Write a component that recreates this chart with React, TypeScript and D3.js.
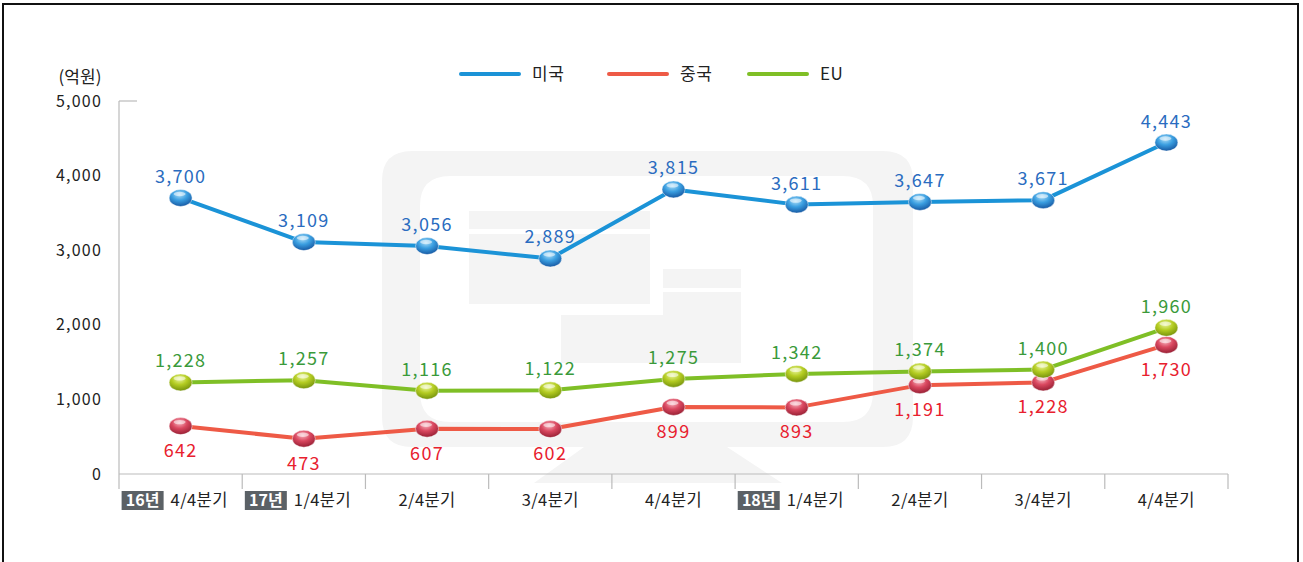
import React from "react";
import * as d3 from "d3";

const categories = ["16년 4/4분기", "17년 1/4분기", "2/4분기", "3/4분기", "4/4분기", "18년 1/4분기", "2/4분기 ", "3/4분기 ", "4/4분기 "];
const yearBadges = ["16년", "17년", "", "", "", "18년", "", "", ""];
const quarterLabels = ["4/4분기", "1/4분기", "2/4분기", "3/4분기", "4/4분기", "1/4분기", "2/4분기", "3/4분기", "4/4분기"];
const usa = [3700, 3109, 3056, 2889, 3815, 3611, 3647, 3671, 4443];
const china = [642, 473, 607, 602, 899, 893, 1191, 1228, 1730];
const eu = [1228, 1257, 1116, 1122, 1275, 1342, 1374, 1400, 1960];
const yTicks = [0, 1000, 2000, 3000, 4000, 5000];
const seriesNames = ["미국", "중국", "EU"];

const W = 1303, H = 562;
const left = 119, right = 1228, top = 101, bottom = 474;
const FONT = "'Noto Sans CJK KR', 'Noto Sans', sans-serif";

const series = [
  { name: seriesNames[0], values: usa, line: "#1b93d7", label: "#2a6cc0", g: ["#a9dcf7", "#3a9ee0", "#124f9a"], above: true },
  { name: seriesNames[2], values: eu, line: "#7fbf26", label: "#3a9a3a", g: ["#e9f59a", "#b4cc22", "#6d8a0a"], above: true },
  { name: seriesNames[1], values: china, line: "#ee5a46", label: "#e8202e", g: ["#f7b0bb", "#d9475f", "#8e1a2e"], above: false },
];

export default function App() {
  const x = d3.scaleBand<number>().domain(d3.range(categories.length)).range([left, right]);
  const y = d3.scaleLinear().domain([0, 5000]).range([bottom, top]);
  const fmt = d3.format(",");
  const cx = (i: number) => (x(i) as number) + x.bandwidth() / 2;
  const line = (vals: number[]) => d3.line<number>().x((_, i) => cx(i)).y((v) => y(v))(vals) as string;
  const wm = "#f4f4f4";

  const legendItems = [
    { name: seriesNames[0], color: "#1b93d7", x0: 461 },
    { name: seriesNames[1], color: "#ee5a46", x0: 609 },
    { name: seriesNames[2], color: "#7fbf26", x0: 749 },
  ];

  return (
    <svg width={W} height={H} style={{ position: "absolute", left: 0, top: 0, background: "#fff" }} fontFamily={FONT}>
      <defs>
        {series.map((s, k) => (
          <radialGradient key={k} id={`g${k}`} cx="45%" cy="30%" r="75%">
            <stop offset="0%" stopColor={s.g[0]} />
            <stop offset="45%" stopColor={s.g[1]} />
            <stop offset="100%" stopColor={s.g[2]} />
          </radialGradient>
        ))}
      </defs>
      <rect x={3} y={4} width={1295} height={600} fill="#fff" stroke="#111" strokeWidth={2} />

      {/* watermark */}
      <g fill={wm}>
        <path fillRule="evenodd" d={`M412,151 H883 Q913,151 913,181 V417 Q913,447 883,447 H412 Q382,447 382,417 V181 Q382,151 412,151 Z M450,176 H843 Q873,176 873,206 V392 Q873,422 843,422 H450 Q420,422 420,392 V206 Q420,176 450,176 Z`} />
        <path d="M584,447 H727 L782,483 H534 Z" />
        <rect x={469} y={211} width={181} height={18} />
        <rect x={469} y={234} width={181} height={70} />
        <rect x={663} y={269} width={78} height={19} />
        <rect x={663} y={292} width={78} height={24} />
        <rect x={561} y={315} width={180} height={48} />
      </g>

      {/* y axis */}
      <line x1={left} x2={left} y1={top} y2={bottom} stroke="#bbb" strokeWidth={1.2} />
      <line x1={left} x2={left + 18} y1={top} y2={top} stroke="#bbb" strokeWidth={1.2} />
      {yTicks.map((t) => (
        <text key={t} x={102} y={y(t)} dy="0.35em" textAnchor="end" fontSize={16} letterSpacing={1.2} fill="#222">{fmt(t)}</text>
      ))}
      <text x={80} y={77} dy="0.35em" textAnchor="middle" fontSize={17} fill="#222">(억원)</text>

      {/* x axis */}
      <line x1={left} x2={right} y1={bottom} y2={bottom} stroke="#bbb" strokeWidth={1.2} />
      {d3.range(categories.length + 1).map((i) => {
        const xx = i < categories.length ? (x(i) as number) : right;
        return <line key={i} x1={xx} x2={xx} y1={bottom} y2={bottom + 15} stroke="#bbb" strokeWidth={1.2} />;
      })}
      {categories.map((c, i) => {
        const badge = yearBadges[i];
        const c0 = cx(i);
        if (badge) {
          return (
            <g key={c}>
              <rect x={c0 - 59} y={491} width={42} height={19} fill="#5b6166" />
              <text x={c0 - 38} y={500.5} dy="0.36em" textAnchor="middle" fontSize={16} fontWeight={700} fill="#fff">{badge}</text>
              <text x={c0 - 10} y={500.5} dy="0.36em" textAnchor="start" fontSize={16.5} letterSpacing={0.4} fill="#222">{quarterLabels[i]}</text>
            </g>
          );
        }
        return <text key={c} x={c0} y={500.5} dy="0.36em" textAnchor="middle" fontSize={16.5} letterSpacing={0.4} fill="#222">{quarterLabels[i]}</text>;
      })}

      {/* legend */}
      {legendItems.map((l) => (
        <g key={l.name}>
          <line x1={l.x0} x2={l.x0 + 58} y1={74} y2={74} stroke={l.color} strokeWidth={4} strokeLinecap="round" />
          <text x={l.x0 + 71} y={74} dy="0.35em" fontSize={17} letterSpacing={0.5} fill="#222">{l.name}</text>
        </g>
      ))}

      {/* lines */}
      {series.map((s, k) => (
        <path key={k} d={line(s.values)} fill="none" stroke={s.line} strokeWidth={4} strokeLinejoin="round" />
      ))}
      {[2, 1, 0].map((k) => {
        const s = series[k];
        return (
          <g key={k}>
            {s.values.map((v, i) => (
              <g key={i}>
                <ellipse cx={cx(i)} cy={y(v)} rx={11.5} ry={8.5} fill={`url(#g${k})`} stroke="#fff" strokeOpacity={0.6} strokeWidth={0.8} />
                <ellipse cx={cx(i) - 1} cy={y(v) - 4} rx={6} ry={2.2} fill="#fff" opacity={0.55} />
              </g>
            ))}
          </g>
        );
      })}
      {/* value labels */}
      {series.map((s, k) => (
        <g key={k}>
          {s.values.map((v, i) => (
            <text key={i} x={cx(i)} y={s.above ? y(v) - 15 : y(v) + 31} textAnchor="middle" fontSize={18} letterSpacing={1.3} fill={s.label}>{fmt(v)}</text>
          ))}
        </g>
      ))}
    </svg>
  );
}
